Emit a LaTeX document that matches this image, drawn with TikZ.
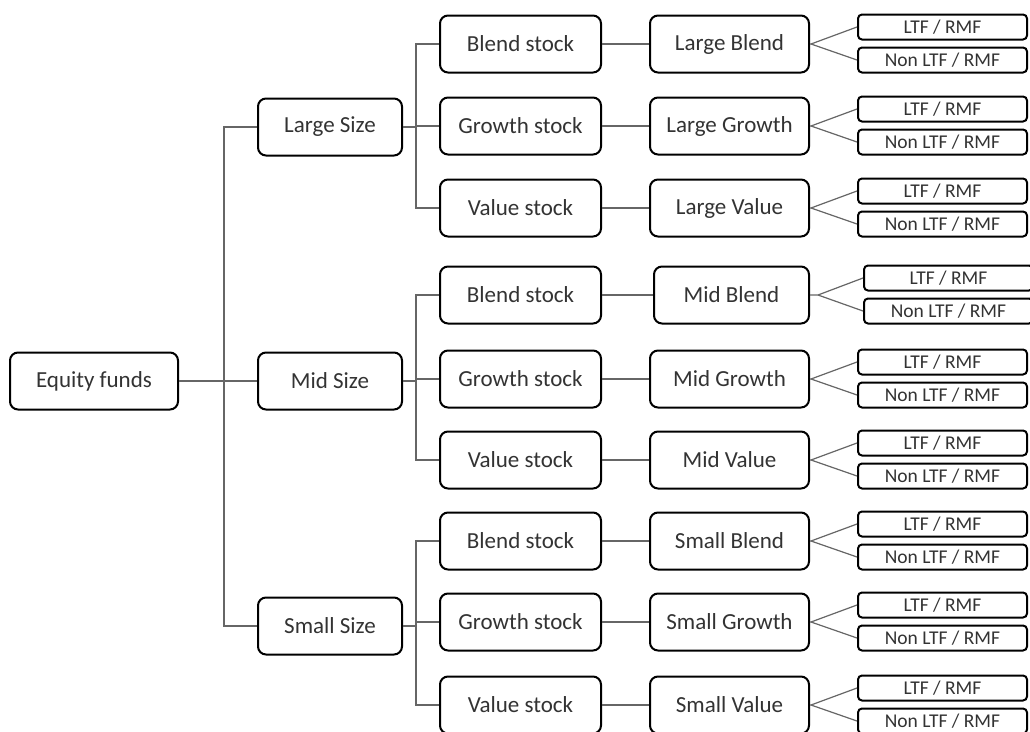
\documentclass[tikz,border=0pt]{standalone}
\usepackage{fontspec}
\setmainfont{Carlito}
\definecolor{txt}{HTML}{333333}
\definecolor{lnc}{HTML}{666666}
\begin{document}
\begin{tikzpicture}[x=1pt,y=-1pt,
  box/.style={draw=black,line width=2pt,rounded corners=8pt,inner sep=0pt,text=txt,font=\fontsize{23}{27}\selectfont},
  rootbox/.style={box,minimum width=168pt,minimum height=57pt},
  lvlbox/.style={box,minimum width=144pt,minimum height=57pt},
  stkbox/.style={box,minimum width=161pt,minimum height=57pt},
  catbox/.style={box,minimum height=57pt},
  leafbox/.style={draw=black,line width=2pt,rounded corners=4pt,inner sep=0pt,text=txt,minimum width=169pt,minimum height=25pt,font=\fontsize{19.5}{22}\selectfont},
  conn/.style={draw=lnc,line width=1.2pt}]
\useasboundingbox (0,0) rectangle (1030,731);
\fill[white] (0,0) rectangle (1030,731);

\node[rootbox] (eq) at (94,381) {Equity funds};
\coordinate (j0) at (224,381);

\foreach \g/\sy/\nm in {L/127/Large, M/381/Mid, S/626/Small}{
  \node[lvlbox] (sz\g) at (330,\sy) {\nm\ Size};
}

\foreach \g/\r/\ry/\st/\ct/\cx/\cw/\ax/\lx in {
  L/1/44/Blend stock/Large Blend/729.5/159/811/942.5,
  L/2/126/Growth stock/Large Growth/729.5/159/811/942.5,
  L/3/208/Value stock/Large Value/729.5/159/811/942.5,
  M/1/295/Blend stock/Mid Blend/731.5/155/818/948.5,
  M/2/379/Growth stock/Mid Growth/729.5/159/811/942.5,
  M/3/460/Value stock/Mid Value/729.5/159/811/942.5,
  S/1/541/Blend stock/Small Blend/729.5/159/811/942.5,
  S/2/622/Growth stock/Small Growth/729.5/159/811/942.5,
  S/3/705/Value stock/Small Value/729.5/159/811/942.5}{
  \node[stkbox] (st\g\r) at (520.5,\ry) {\st};
  \node[catbox,minimum width=\cw pt] (ct\g\r) at (\cx,\ry) {\ct};
  \coordinate (ap\g\r) at (\ax,\ry);
  \node[leafbox] (la\g\r) at (\lx,\ry-17) {LTF / RMF};
  \node[leafbox] (lb\g\r) at (\lx,\ry+16) {Non LTF / RMF};
  \draw[conn] (st\g\r.east) -- (ct\g\r.west);
  \draw[conn] (ct\g\r.east) -- (ap\g\r) -- (la\g\r.west);
  \draw[conn] (ap\g\r) -- (lb\g\r.west);
}

\foreach \g/\sy in {L/127, M/381, S/626}{
  \coordinate (j\g) at (416,\sy);
  \draw[conn] (sz\g.east) -- (j\g);
  \draw[conn] (st\g1.west) -- (st\g1.west -| j\g) -- (st\g3.west -| j\g) -- (st\g3.west);
  \draw[conn] (st\g2.west) -- (st\g2.west -| j\g);
}

\draw[conn] (eq.east) -- (szM.west);
\draw[conn] (szL.west) -- (szL.west -| j0) -- (szS.west -| j0) -- (szS.west);
\end{tikzpicture}
\end{document}
